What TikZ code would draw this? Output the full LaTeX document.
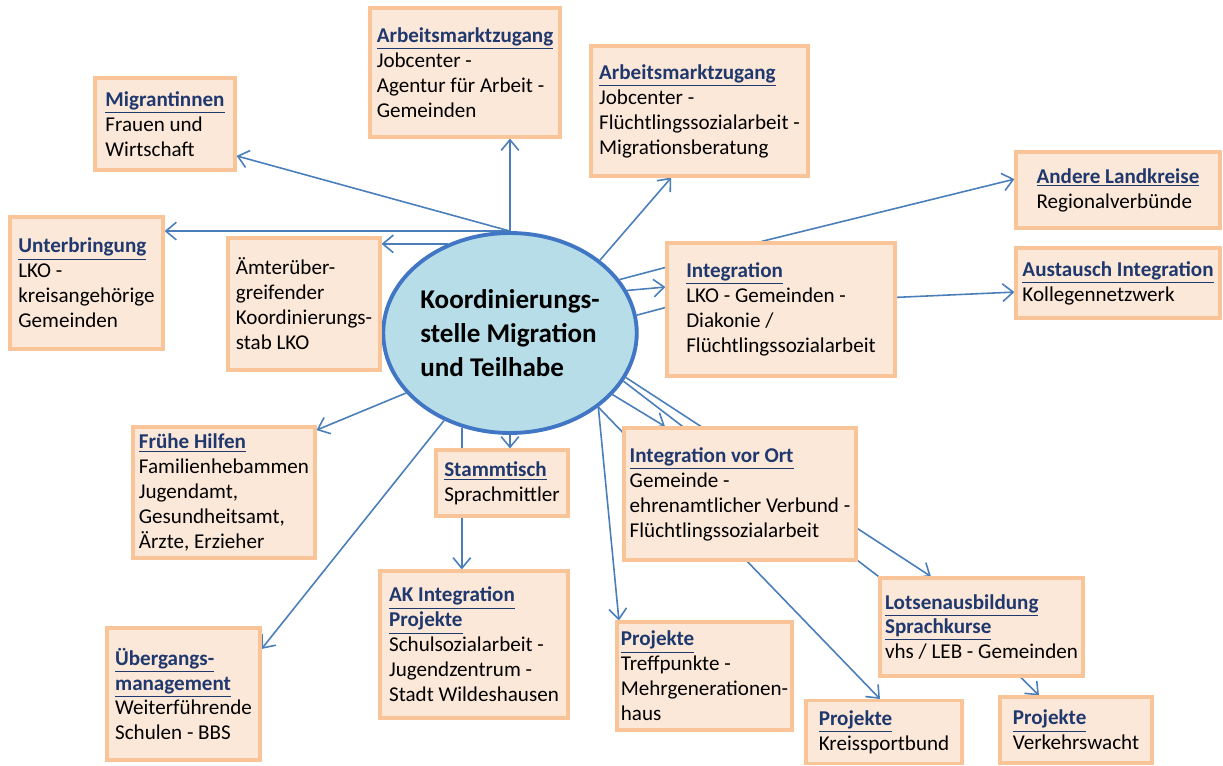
\documentclass[tikz,border=0pt]{standalone}
\usepackage{fontspec}
\setmainfont{Carlito}
\usetikzlibrary{shapes.geometric,arrows.meta,backgrounds}
\definecolor{boxfill}{RGB}{252,232,216}
\definecolor{boxline}{RGB}{249,196,152}
\definecolor{linkblue}{RGB}{74,126,187}
\definecolor{hubfill}{RGB}{183,222,232}
\definecolor{hubline}{RGB}{65,118,196}
\definecolor{headblue}{RGB}{31,56,110}
\newcommand{\head}[1]{\textcolor{headblue}{\underline{\textbf{#1}}}}

\begin{document}
\begin{tikzpicture}[x=0.02cm, y=-0.02cm, every node/.style={font=\fontsize{12pt}{14.2pt}\selectfont},
	box/.style={draw=boxline, fill=boxfill, line width=1.8pt, align=left, inner sep=2pt},
	hub/.style={ellipse, draw=hubline, fill=hubfill, line width=2.2pt, inner sep=0pt, minimum width=4.96cm, minimum height=4cm, align=left, font=\fontsize{15.4pt}{19.5pt}\selectfont\bfseries},
	link/.style={draw=linkblue, line width=0.9pt},
	linkarrow/.style={link, -{Straight Barb[length=6pt,width=10pt]}}]
	\useasboundingbox (0,0) rectangle (1223,765);
	\node[hub] (koord) at (510,333) {Koordinierungs-\\stelle Migration\\und Teilhabe};
	\node[box, minimum width=3.8cm, minimum height=2.58cm] (arbA) at (465,72.5) {\head{Arbeitsmarktzugang}\\Jobcenter -\\Agentur für Arbeit -\\Gemeinden};
	\node[box, minimum width=4.34cm, minimum height=2.6cm] (arbB) at (699.5,111) {\head{Arbeitsmarktzugang}\\Jobcenter -\\Flüchtlingssozialarbeit -\\Migrationsberatung};
	\node[box, minimum width=2.8cm, minimum height=1.84cm] (migr) at (165,124) {\head{Migrantinnen}\\Frauen und\\Wirtschaft};
	\node[box, minimum width=3.06cm, minimum height=2.64cm] (unterb) at (86.5,283) {\head{Unterbringung}\\LKO -\\kreisangehörige\\Gemeinden};
	\node[box, minimum width=3.04cm, minimum height=2.64cm] (aemter) at (304,304) {Ämterüber-\\greifender\\Koordinierungs-\\stab LKO};
	\node[box, minimum width=4.56cm, minimum height=2.66cm] (integ) at (781,309.5) {\head{Integration}\\LKO - Gemeinden -\\Diakonie /\\Flüchtlingssozialarbeit};
	\node[box, minimum width=4.08cm, minimum height=1.52cm] (andere) at (1118,190) {\head{Andere Landkreise}\\Regionalverbünde};
	\node[box, minimum width=4.08cm, minimum height=1.4cm] (austausch) at (1118,283) {\head{Austausch Integration}\\Kollegennetzwerk};
	\node[box, minimum width=3.64cm, minimum height=2.62cm] (fruehe) at (224,492.5) {\head{Frühe Hilfen}\\Familienhebammen\\Jugendamt,\\Gesundheitsamt,\\Ärzte, Erzieher};
	\node[box, minimum width=2.64cm, minimum height=1.32cm] (stamm) at (502,483) {\head{Stammtisch}\\Sprachmittler};
	\node[box, minimum width=4.64cm, minimum height=2.64cm] (vorort) at (740,494) {\head{Integration vor Ort}\\Gemeinde -\\ehrenamtlicher Verbund -\\Flüchtlingssozialarbeit};
	\node[box, minimum width=3.76cm, minimum height=2.94cm] (akint) at (474,644.5) {\head{AK Integration}\\\head{Projekte}\\Schulsozialarbeit -\\Jugendzentrum -\\Stadt Wildeshausen};
	\node[box, minimum width=3.06cm, minimum height=2.64cm] (uebergang) at (183.5,694) {\head{Übergangs-}\\\head{management}\\Weiterführende\\Schulen - BBS};
	\node[box, minimum width=3.5cm, minimum height=2.16cm] (projTreff) at (704.5,676) {\head{Projekte}\\Treffpunkte -\\Mehrgenerationen-\\haus};
	\node[box, minimum width=4.06cm, minimum height=1.96cm] (lotsen) at (981.5,627) {\head{Lotsenausbildung}\\\head{Sprachkurse}\\vhs / LEB - Gemeinden};
	\node[box, minimum width=3.12cm, minimum height=1.26cm] (projSport) at (884,732) {\head{Projekte}\\Kreissportbund};
	\node[box, minimum width=3.04cm, minimum height=1.32cm] (projVerk) at (1076,730) {\head{Projekte}\\Verkehrswacht};
	\begin{pgfonlayer}{background}
		\draw[linkarrow] (koord.north) -- (migr.-24);
		\draw[linkarrow] (koord.north) -- (koord.north |- arbA.south);
		\draw[linkarrow] (koord.north) -- (koord.north -| unterb.east);
		\draw[linkarrow] (koord.125) -- (koord.125 -| aemter.east);
		\draw[linkarrow] (koord.39) -- (arbB.-113);
		\draw[link] (koord.26) -- (integ.160);
		\draw[linkarrow] (koord.20) -- (integ.169);
		\draw[link] (koord.8) -- (integ.179);
		\draw[linkarrow] (integ.106) -- (andere.174);
		\draw[linkarrow] (integ.6) -- (austausch.185);
		\draw[linkarrow] (koord.210) -- (fruehe.34);
		\draw[linkarrow] (koord.233) -- (uebergang.30);
		\draw[linkarrow] (koord.south) -- (koord.south |- stamm.north);
		\draw[linkarrow] (koord.243) -- (koord.243 |- akint.north);
		\draw[linkarrow] (koord.-40) -- (projTreff.147);
		\draw[linkarrow] (koord.-40) -- (projSport.97);
		\draw[linkarrow] (koord.-31) -- (vorort.138);
		\draw[link] (koord.-23) -- (lotsen.north west);
		\draw[linkarrow] (koord.-21) -- (lotsen.135);
		\draw[linkarrow] (lotsen.-52) -- (projVerk.137);
	\end{pgfonlayer}
\end{tikzpicture}
\end{document}
